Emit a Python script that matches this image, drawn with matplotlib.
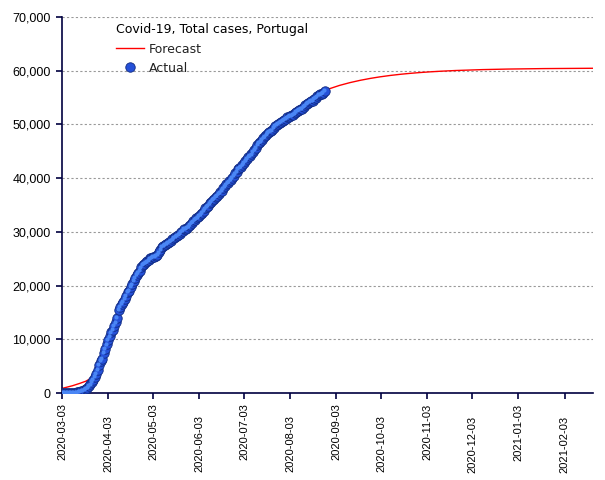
import numpy as np
import pandas as pd
import matplotlib
matplotlib.use("Agg")
import matplotlib.pyplot as plt
import matplotlib.dates as mdates
from matplotlib.transforms import ScaledTranslation

# Actual cumulative cases, daily from 2020-03-03
actual_start = "2020-03-03"
actual_cases = [
    4, 6, 9, 13, 21, 30, 39, 41, 59, 78, 112, 169, 245, 331, 448, 642, 785, 1020,
    1280, 1600, 2060, 2362, 2995, 3544, 4268, 5170, 5962, 6408, 7443,
    8251, 9034, 9886, 10524, 11278, 11730, 12442, 13141, 13956, 15472, 15987,
    16585, 16934, 17448, 18091, 18841, 19022, 19685, 20206, 20863, 21379, 21982,
    22353, 22797, 23392, 23864, 24027, 24322, 24505, 24692,
    25045, 25190, 25282, 25351, 25524, 25702, 26182, 26715, 27268, 27406, 27581,
    27679, 27913, 28132, 28319, 28583, 28810, 29036, 29209, 29432, 29660, 29912,
    30200, 30471, 30623, 30788, 31007, 31292, 31596, 31946, 32203,
    32500, 32700, 32895, 33261, 33592, 33969, 34351, 34693, 34885, 35306, 35600,
    35910, 36180, 36463, 36690, 37036, 37336, 37672, 38089, 38464, 38841, 39133,
    39392, 39737, 40104, 40415, 40866, 41189, 41646, 41912,
    42141, 42454, 42782, 43156, 43569, 43897, 44129, 44416, 44859, 45277, 45679,
    46221, 46512, 46818, 47051, 47426, 47765, 48077, 48390, 48636, 48771, 48898,
    49379, 49692, 49955, 50164, 50299, 50410, 50613, 50868, 51072,
    51310, 51463, 51569, 51681, 51848, 52061, 52351, 52537, 52668, 52825, 52945,
    53223, 53548, 53783, 53981, 54234, 54354, 54448, 54701, 54992, 55211, 55452,
    55597, 55720, 55912, 56274,
]

# Forecast curve
forecast_dates = [
    "2020-03-03", "2020-03-10", "2020-03-15", "2020-03-19", "2020-03-24",
    "2020-03-31", "2020-04-07", "2020-04-14", "2020-04-21", "2020-04-28",
    "2020-05-05", "2020-05-12", "2020-05-19", "2020-05-26", "2020-06-02",
    "2020-06-09", "2020-06-16", "2020-06-23", "2020-06-30", "2020-07-07",
    "2020-07-14", "2020-07-21", "2020-07-28", "2020-08-04", "2020-08-11",
    "2020-08-18", "2020-08-26", "2020-09-05", "2020-09-12", "2020-09-19",
    "2020-09-26", "2020-10-02", "2020-10-09", "2020-10-16", "2020-10-22",
    "2020-10-29", "2020-11-05", "2020-11-12", "2020-11-22", "2020-12-10",
    "2020-12-27", "2021-01-20", "2021-02-22",
]
forecast_cases = [
    850, 1350, 1800, 2200, 3000,
    7200, 12300, 17300, 21300, 24000,
    25700, 27600, 29200, 30800, 32700,
    34900, 37000, 39400, 41900, 44100,
    46800, 48800, 50400, 51700, 53000,
    54500, 56340, 57260, 57780, 58216,
    58583, 58850, 59115, 59337, 59499,
    59659, 59794, 59907, 60039, 60206,
    60308, 60395, 60454,
]

tick_dates = [
    "2020-03-03", "2020-04-03", "2020-05-03", "2020-06-03", "2020-07-03",
    "2020-08-03", "2020-09-03", "2020-10-03", "2020-11-03", "2020-12-03",
    "2021-01-03", "2021-02-03",
]

x_start, x_end = "2020-03-03", "2021-02-22"
navy = "#000040"

fig = plt.figure(figsize=(6.05, 4.8), dpi=100)
ax = fig.add_axes([62 / 605, 87 / 480, 531 / 605, 376 / 480])

act_x = pd.date_range(actual_start, periods=len(actual_cases), freq="D")
fc_x = pd.to_datetime(forecast_dates)

ax.plot(fc_x, forecast_cases, color="#ff0000", lw=1.0, label="Forecast", zorder=2)
ax.plot(act_x, actual_cases, ls="none", marker="o", ms=6.8,
        mfc="#2550d8", mec="#102a80", mew=0.6, label="Actual", zorder=3)
# small highlight to mimic the shaded balls
ax.plot(act_x, actual_cases, ls="none", marker="o", ms=3.0,
        mfc="#4a86f5", mec="none", zorder=4,
        transform=ax.transData + ScaledTranslation(-0.6 / 72, 0.6 / 72, fig.dpi_scale_trans))

ax.set_xlim(pd.Timestamp(x_start), pd.Timestamp(x_end))
ax.set_ylim(0, 70000)
ax.set_yticks(np.arange(0, 70001, 10000))
ax.yaxis.set_major_formatter(matplotlib.ticker.FuncFormatter(lambda v, p: f"{int(v):,}"))
ax.set_xticks(pd.to_datetime(tick_dates))
ax.xaxis.set_major_formatter(mdates.DateFormatter("%Y-%m-%d"))

ax.grid(axis="y", color="#999999", lw=0.8, ls=(0, (2, 2)))
ax.set_axisbelow(True)

for s in ["top", "right"]:
    ax.spines[s].set_visible(False)
for s in ["left", "bottom"]:
    ax.spines[s].set_color(navy)
    ax.spines[s].set_linewidth(1.2)

ax.tick_params(axis="y", direction="out", length=4, width=1.2, color=navy,
               labelsize=9, pad=4)
ax.tick_params(axis="x", direction="out", length=4.5, width=1.2, color=navy,
               labelsize=8, pad=3)
for lbl in ax.get_yticklabels():
    lbl.set_family("Liberation Sans")
for i, lbl in enumerate(ax.get_xticklabels()):
    lbl.set_family("Liberation Sans")
    lbl.set_rotation(90)
    if i % 2 == 1:
        lbl.set_transform(lbl.get_transform() + ScaledTranslation(0, -12 / 100, fig.dpi_scale_trans))

leg = ax.legend(loc="upper left", bbox_to_anchor=(0.081, 1.013), frameon=False,
                title="Covid-19, Total cases, Portugal", fontsize=9,
                title_fontsize=9, handlelength=2.2, handletextpad=0.4,
                labelspacing=0.5, alignment="left")
for t in leg.get_texts():
    t.set_color("#222222")

fig.savefig("out.png", dpi=100)
